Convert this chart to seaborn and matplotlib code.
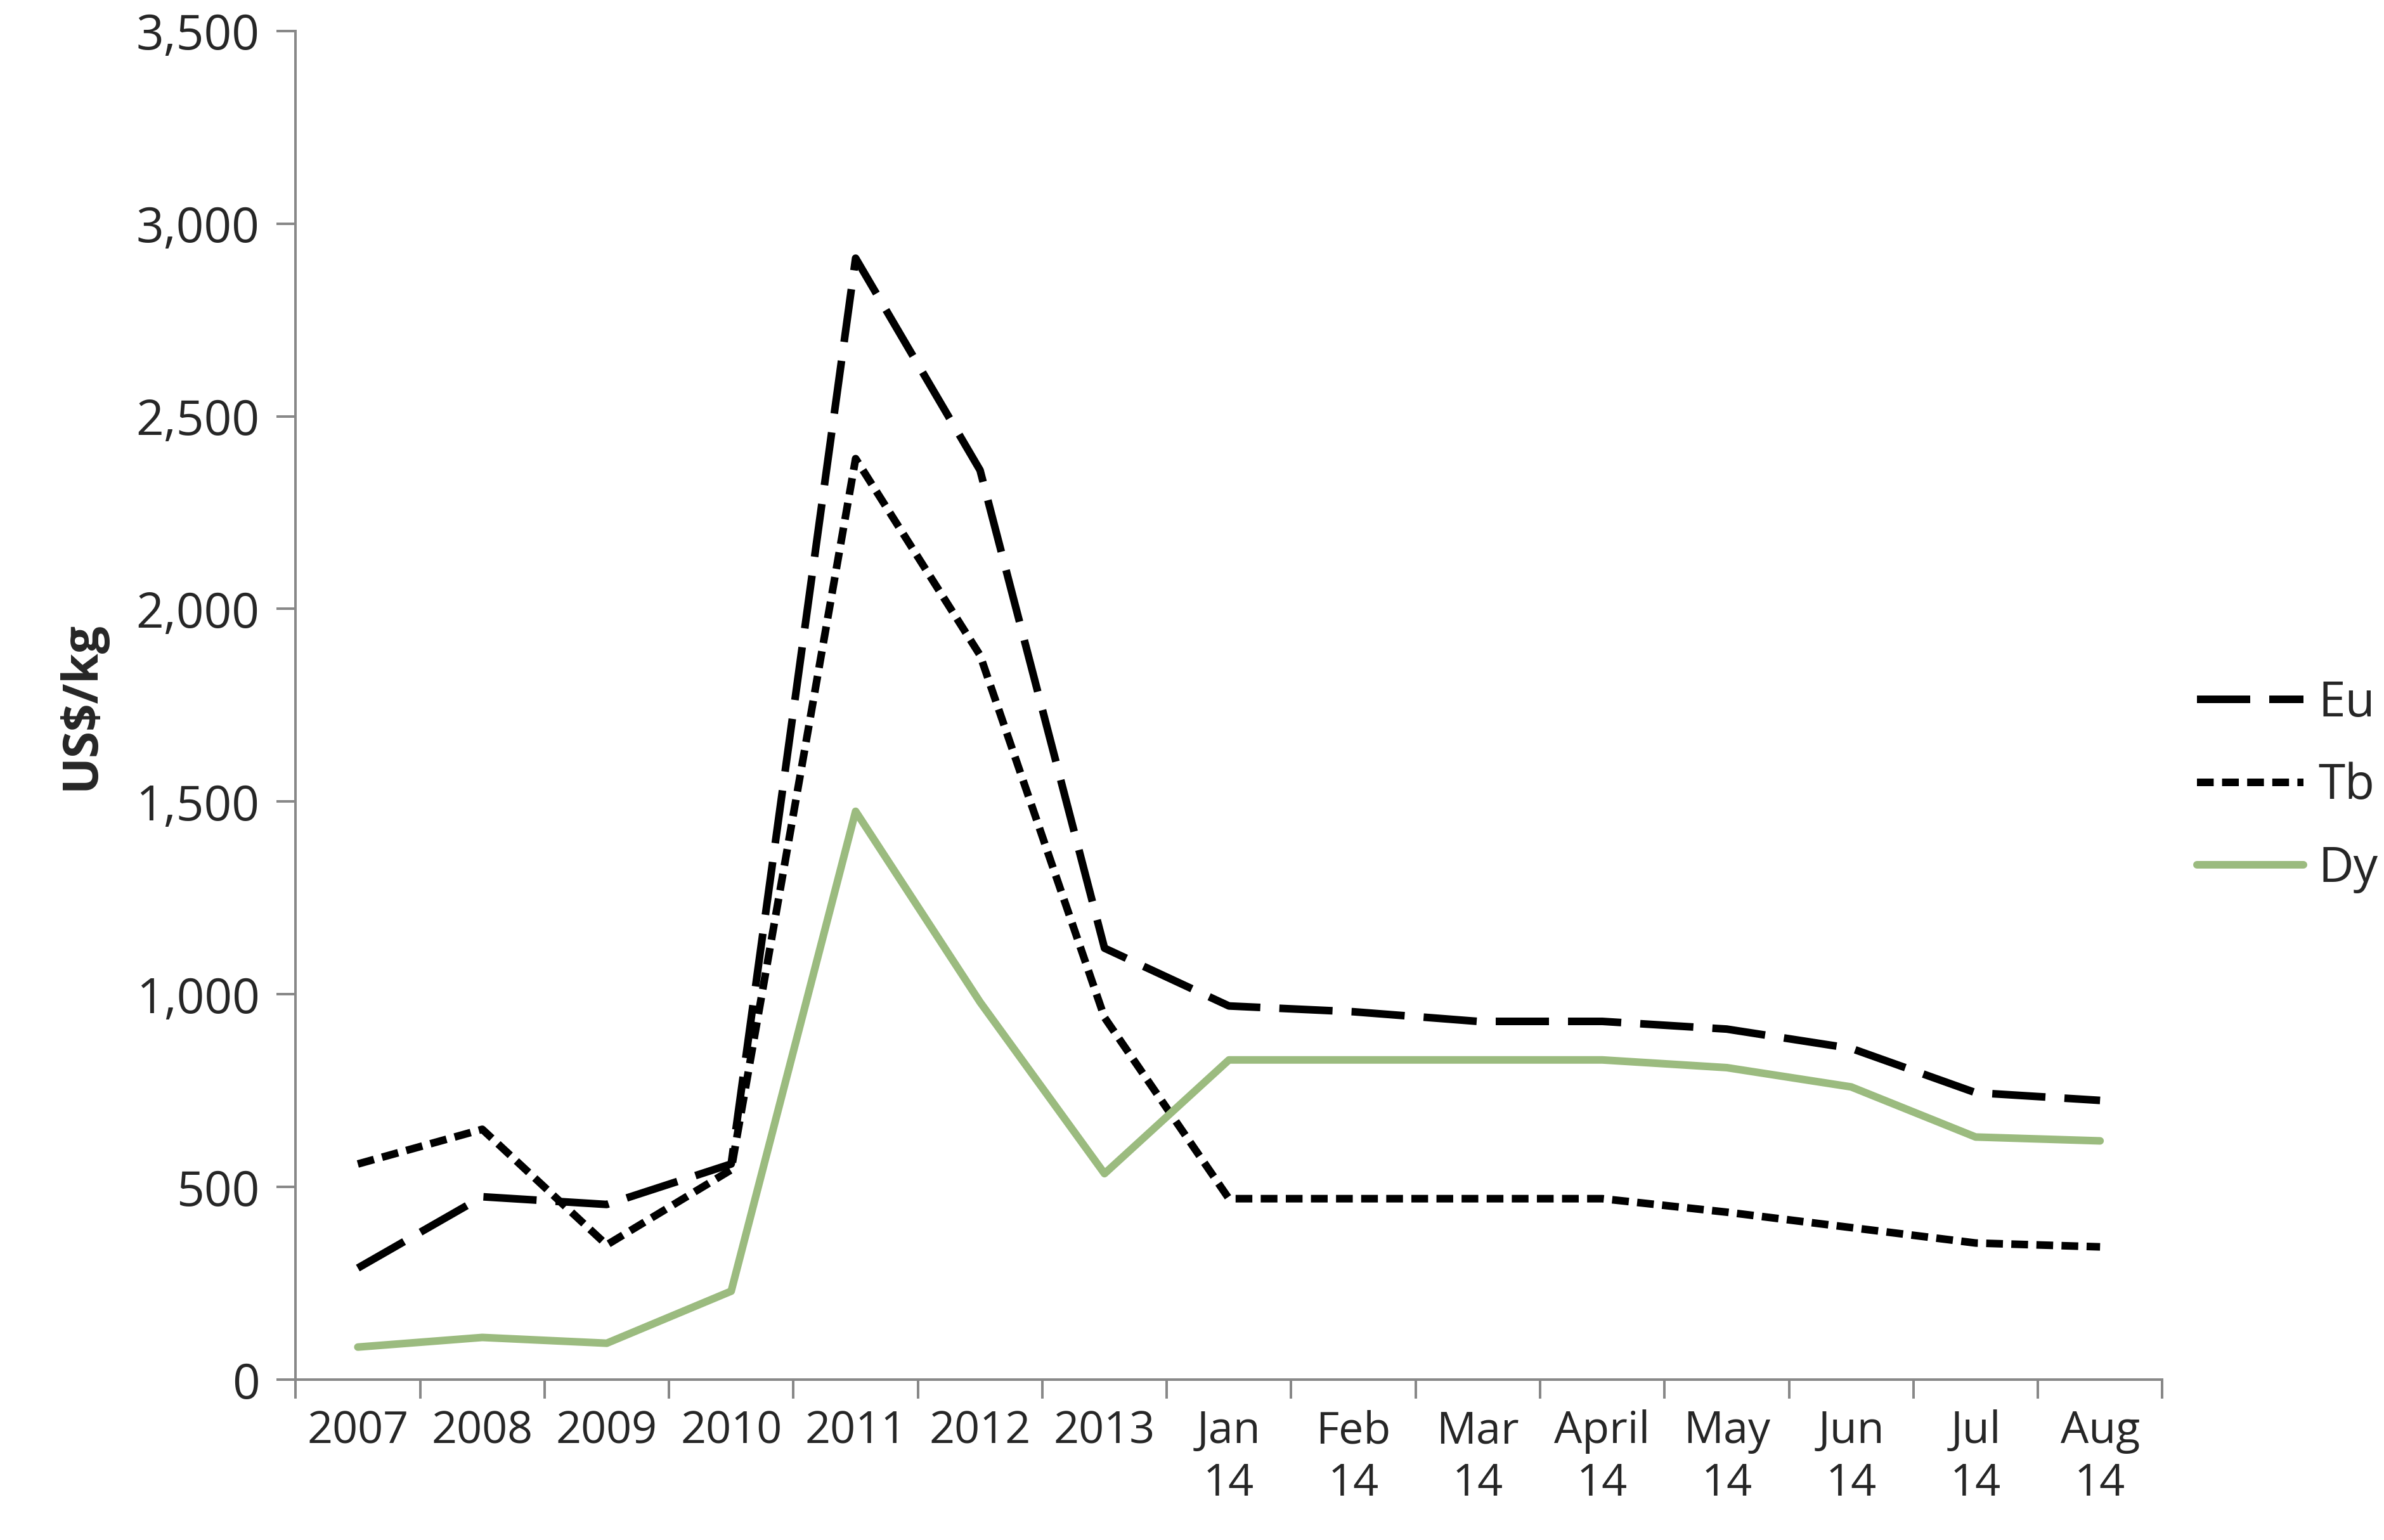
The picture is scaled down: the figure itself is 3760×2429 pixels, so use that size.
import matplotlib
matplotlib.use("Agg")
import matplotlib.pyplot as plt
import numpy as np
import pandas as pd
import seaborn as sns

periods = ["2007", "2008", "2009", "2010", "2011", "2012", "2013", "Jan\n14", "Feb\n14",
           "Mar\n14", "April\n14", "May\n14", "Jun\n14", "Jul\n14", "Aug\n14"]
eu = [290, 475, 455, 560, 2910, 2360, 1120, 970, 955, 930, 930, 910, 860, 745, 725]
tb = [560, 650, 350, 545, 2390, 1880, 940, 470, 470, 470, 470, 435, 395, 355, 345]
dy = [85, 110, 95, 230, 1475, 980, 535, 830, 830, 830, 830, 810, 760, 630, 620]

rows = []
for name, vals in (("Eu", eu), ("Tb", tb), ("Dy", dy)):
    for i, v in enumerate(vals):
        rows.append({"pos": i, "element": name, "price": v})
df = pd.DataFrame(rows)

sns.set_style("white")
plt.rcParams["font.family"] = ["Open Sans", "DejaVu Sans"]

fig = plt.figure(figsize=(3760 / 240, 2429 / 240), dpi=240)
ax = fig.add_axes([0.124, 0.104, 0.783, 0.876])

palette = {"Eu": "black", "Tb": "black", "Dy": "#9bbb7f"}
dashes = {"Eu": (7, 2.5), "Tb": (2.2, 1.1), "Dy": ""}
sns.lineplot(data=df, x="pos", y="price", hue="element", style="element",
             palette=palette, dashes=dashes, linewidth=3.6, ax=ax)

ax.set_xlim(-0.5, len(periods) - 0.5)
ax.set_ylim(0, 3500)
ax.set_yticks(np.arange(0, 3501, 500))
ax.set_yticklabels([f"{v:,}" for v in range(0, 3501, 500)], fontsize=23)
ax.set_xticks(range(len(periods)))
ax.set_xticklabels(periods, fontsize=21, linespacing=1.25)
ax.set_xticks(np.arange(-0.5, len(periods), 1), minor=True)
ax.tick_params(axis="x", which="major", length=0, pad=14, bottom=True)
ax.tick_params(axis="x", which="minor", length=9, width=1.2, color="#888888",
               direction="out", bottom=True)
ax.tick_params(axis="y", length=9, width=1.2, color="#888888", direction="out",
               left=True, pad=8)
ax.set_xlabel("")
ax.set_ylabel("US$/kg", fontsize=23, fontweight="bold", labelpad=14)
for s in ("top", "right"):
    ax.spines[s].set_visible(False)
for s in ("left", "bottom"):
    ax.spines[s].set_color("#888888")
    ax.spines[s].set_linewidth(1.2)

ax.legend(title=None, frameon=False, fontsize=23, loc="center left",
          bbox_to_anchor=(0.995, 0.44), handlelength=2.2, handletextpad=0.3,
          labelspacing=0.7)

fig.savefig("out.png", dpi=240)
